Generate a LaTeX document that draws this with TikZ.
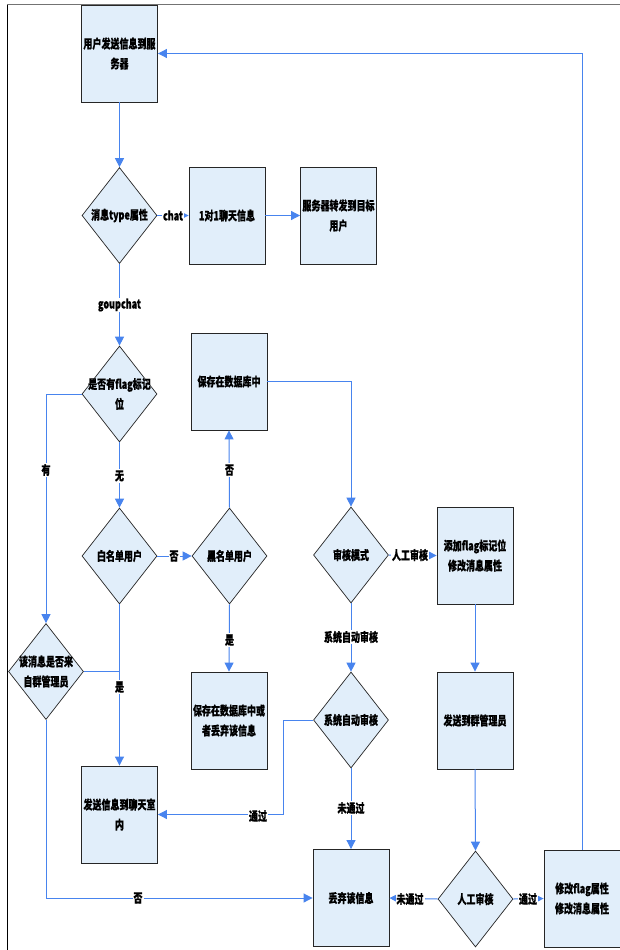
\documentclass[tikz,border=0pt]{standalone}
\usepackage{fontspec}
\usetikzlibrary{shapes.geometric,arrows.meta}
\newfontfamily\cjkf[FakeStretch=0.72,BoldFeatures={FakeBold=0.6}]{Noto Sans CJK SC}
\newcommand\cjkb{\cjkf\bfseries\fontsize{12.5}{20}\selectfont}
\definecolor{boxfill}{RGB}{225,238,250}
\definecolor{linec}{RGB}{72,132,238}
\tikzset{
 box/.style={draw=black!85, fill=boxfill, line width=0.9pt, minimum width=76pt, minimum height=97pt, inner sep=0pt, font=\cjkb, align=center},
 dia/.style={draw=black!85, fill=boxfill, line width=0.7pt, diamond, minimum width=75pt, minimum height=96pt, inner sep=0pt},
 txt/.style={font=\cjkb, align=center, inner sep=0pt},
 lab/.style={fill=white, font=\cjkb, inner sep=1pt},
 arr/.style={draw=linec, line width=1pt, -{Triangle[length=9pt,width=9pt]}},
 ln/.style={draw=linec, line width=1pt},
}
\begin{document}
\begin{tikzpicture}[x=1pt,y=-1pt]
\useasboundingbox (0,0) rectangle (620,950);
\fill[white] (0,0) rectangle (620,950);
% frame
\draw[black!55, line width=1pt] (7,5) -- (620,5);
\draw[black, line width=0.8pt] (7,5) -- (7,950);
% nodes
\node[box] (A) at (119.5,53.5) {用户发送信息到服\\务器};
\node[dia] (B) at (119.5,215.5) {};
\node[txt] (Bt) at (B) {消息type属性};
\node[box] (C) at (227,215.5) {1对1聊天信息};
\node[box] (D) at (338.5,215.5) {服务器转发到目标\\用户};
\node[dia] (E) at (119.5,394) {};
\node[txt] (Et) at (E) {是否有flag标记\\位};
\node[dia] (F) at (119.5,556) {};
\node[txt] (Ft) at (F) {白名单用户};
\node[dia] (H) at (229.5,556) {};
\node[txt] (Ht) at (H) {黑名单用户};
\node[box] (I) at (229,381.5) {保存在数据库中};
\node[box] (J) at (229,720.5) {保存在数据库中或\\者丢弃该信息};
\node[dia] (G) at (46,671.5) {};
\node[txt] (Gt) at (G) {该消息是否来\\自群管理员};
\node[box] (O) at (119.5,814.5) {发送信息到聊天室\\内};
\node[dia] (K) at (351,555) {};
\node[txt] (Kt) at (K) {审核模式};
\node[box] (L) at (475,555.5) {添加flag标记位\\修改消息属性};
\node[dia] (M) at (351,720) {};
\node[txt] (Mt) at (M) {系统自动审核};
\node[box] (P) at (475,720.5) {发送到群管理员};
\node[box] (N) at (351,898) {丢弃该信息};
\node[dia] (Q) at (475.5,899) {};
\node[txt] (Qt) at (Q) {人工审核};
\node[box] (R) at (582,898.5) {修改flag属性\\修改消息属性};
% connectors
\draw[arr] (A.south) -- (B.north);
\draw[arr] (B.east) -- (C.west);
\draw[arr] (C.east) -- (D.west);
\draw[arr] (B.south) -- (E.north);
\draw[arr] (E.west) -| (G.north);
\draw[arr] (E.south) -- (F.north);
\draw[arr] (F.east) -- (H.west);
\draw[arr] (H.north) -- (I.south);
\draw[arr] (H.south) -- (J.north);
\draw[arr] (I.east) -| (K.north);
\draw[arr] (K.east) -- (L.west);
\draw[arr] (K.south) -- (M.north);
\draw[arr] (M.south) -- (N.north);
\coordinate (mj) at (283,720);
\draw[arr] (M.west) -- (mj) |- (O.east);
\draw[arr] (F.south) -- (O.north);
\coordinate (gj) at (119.5,671.5);
\draw[ln] (G.east) -- (gj);
\draw[arr] (G.south) |- (N.west);
\draw[arr] (L.south) -- (P.north);
\draw[arr] (P.south) -- (Q.north);
\draw[arr] (Q.west) -- (N.east);
\draw[arr] (Q.east) -- (R.west);
\draw[arr] (R.north) |- (A.east);
% labels
\node[lab] (l1) at (173,215.5) {chat};
\node[lab] (l2) at (119.5,305) {goupchat};
\node[lab] (l3) at (46,470) {有};
\node[lab] (l4) at (119.5,476) {无};
\node[lab] (l5) at (174,556) {否};
\node[lab] (l6) at (229.5,470) {否};
\node[lab] (l7) at (229.5,640) {是};
\node[lab] (l8) at (119.5,687) {是};
\node[lab] (l9) at (410,555) {人工审核};
\node[lab] (l10) at (351,637) {系统自动审核};
\node[lab] (l11) at (351,808) {未通过};
\node[lab] (l12) at (258,816) {通过};
\node[lab] (l13) at (138,898) {否};
\node[lab] (l14) at (410,899) {未通过};
\node[lab] (l15) at (528,899) {通过};
\end{tikzpicture}
\end{document}
